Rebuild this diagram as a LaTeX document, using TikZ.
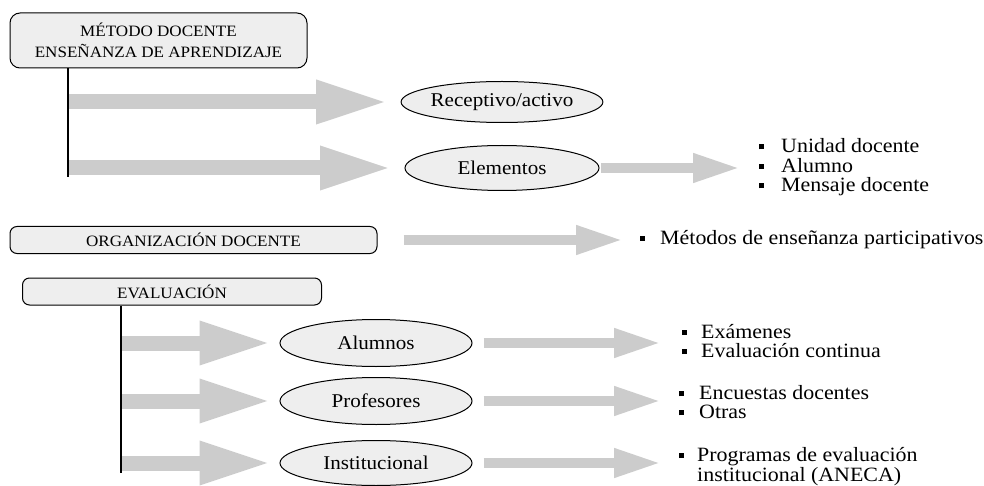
\documentclass[tikz,border=0pt]{standalone}
\usepackage{fontspec}
\setmainfont{Liberation Serif}[FakeStretch=1.08]
\usetikzlibrary{shapes.geometric,arrows.meta}

\definecolor{arrowgray}{HTML}{CCCCCC}
\definecolor{boxgray}{HTML}{EEEEEE}

\newcommand{\sqbul}{\raisebox{3.5pt}{\rule{5pt}{5pt}}}
\newcommand{\capsize}{\fontsize{15.8}{21}\selectfont}
\newcommand{\txtsize}{\fontsize{19.5}{18}\selectfont}
\newcommand{\lstsize}{\fontsize{20.3}{18}\selectfont}

\tikzset{
  bigarrow/.style={draw=arrowgray,line width=15pt,-{Triangle[length=72pt,width=40pt]}},
  smallarrow/.style={draw=arrowgray,line width=10pt,-{Triangle[length=47pt,width=27pt]}},
  trunk/.style={draw,line width=1.3pt}
}

\begin{document}
\begin{tikzpicture}[x=1pt,y=-1pt]

      \useasboundingbox (0,0) rectangle (984,486);

      \begin{scope}[every node/.style={draw,line width=1pt,fill=boxgray,rounded corners=7pt,
          inner sep=0pt,align=center,font=\capsize}]
        \node[minimum width=297pt,minimum height=55pt,rounded corners=10pt] (met) at (158.5,40.5)
          {MÉTODO DOCENTE\\ENSEÑANZA DE APRENDIZAJE};
        \node[minimum width=367pt,minimum height=27pt] (org) at (193.5,240) {ORGANIZACIÓN DOCENTE};
        \node[minimum width=299pt,minimum height=27pt] (eva) at (172,291.5) {EVALUACIÓN};
      \end{scope}

      \begin{scope}[every node/.style={ellipse,draw,line width=1pt,fill=boxgray,inner sep=0pt,
          minimum width=194pt,minimum height=45pt,font=\txtsize}]
        \node[minimum height=41pt] (rec) at (502,102) {Receptivo/activo};
        \node (ele) at (502,168) {Elementos};
        \node[minimum width=192pt,minimum height=47pt] (alu) at (376,343) {Alumnos};
        \node[minimum width=192pt,minimum height=47pt] (pro) at (376,401) {Profesores};
        \node[minimum width=192pt] (ins) at (376,463) {Institucional};
      \end{scope}

      \begin{scope}[every node/.style={anchor=west,inner sep=0pt,font=\lstsize}]
        \node (lele) at (759,168) {\begin{tabular}{@{}l@{\hspace{17pt}}l@{}}
          \sqbul & Unidad docente\\ \sqbul & Alumno\\ \sqbul & Mensaje docente\end{tabular}};
        \node (lorg) at (640,240) {\begin{tabular}{@{}l@{\hspace{15pt}}l@{}}
          \sqbul & Métodos de enseñanza participativos\end{tabular}};
        \node (lalu) at (682,343.5) {\begin{tabular}{@{}l@{\hspace{14pt}}l@{}}
          \sqbul & Exámenes\\ \sqbul & Evaluación continua\end{tabular}};
        \node (lpro) at (679,405) {\begin{tabular}{@{}l@{\hspace{15pt}}l@{}}
          \sqbul & Encuestas docentes\\ \sqbul & Otras\end{tabular}};
        \node (lins) at (679,467) {\begin{tabular}{@{}l@{\hspace{13pt}}l@{}}
          \sqbul & Programas de evaluación\\ & institucional (ANECA)\end{tabular}};
      \end{scope}

      \coordinate (t1) at (68,177);
      \coordinate (t2) at (121,473);

      \begin{scope}[every edge/.style={bigarrow}]
        \path (t1 |- rec) edge[shorten >=12.5pt] (rec.west);
        \path (t1 |- ele) edge[shorten >=12.5pt] (ele.west);
        \path (t2 |- alu) edge[shorten >=8pt] (alu.west);
        \path (t2 |- pro) edge[shorten >=8pt] (pro.west);
        \path (t2 |- ins) edge[shorten >=8pt] (ins.west);
      \end{scope}

      \begin{scope}[every edge/.style={smallarrow}]
        \path (ele.east) edge[shorten <=1.5pt,shorten >=19pt] (lele.west |- ele);
        \path (org.east) edge[shorten <=26pt,shorten >=17pt] (lorg.west |- org);
        \path (alu.east) edge[shorten <=11pt,shorten >=21pt] (lalu.west |- alu);
        \path (pro.east) edge[shorten <=11pt,shorten >=18pt] (lpro.west |- pro);
        \path (ins.east) edge[shorten <=11pt,shorten >=18pt] (lins.west |- ins);
      \end{scope}

      \begin{scope}[every edge/.style={trunk}]
        \path (met.south -| t1) edge (t1);
        \path (eva.south -| t2) edge (t2);
      \end{scope}

    \end{tikzpicture}
\end{document}
